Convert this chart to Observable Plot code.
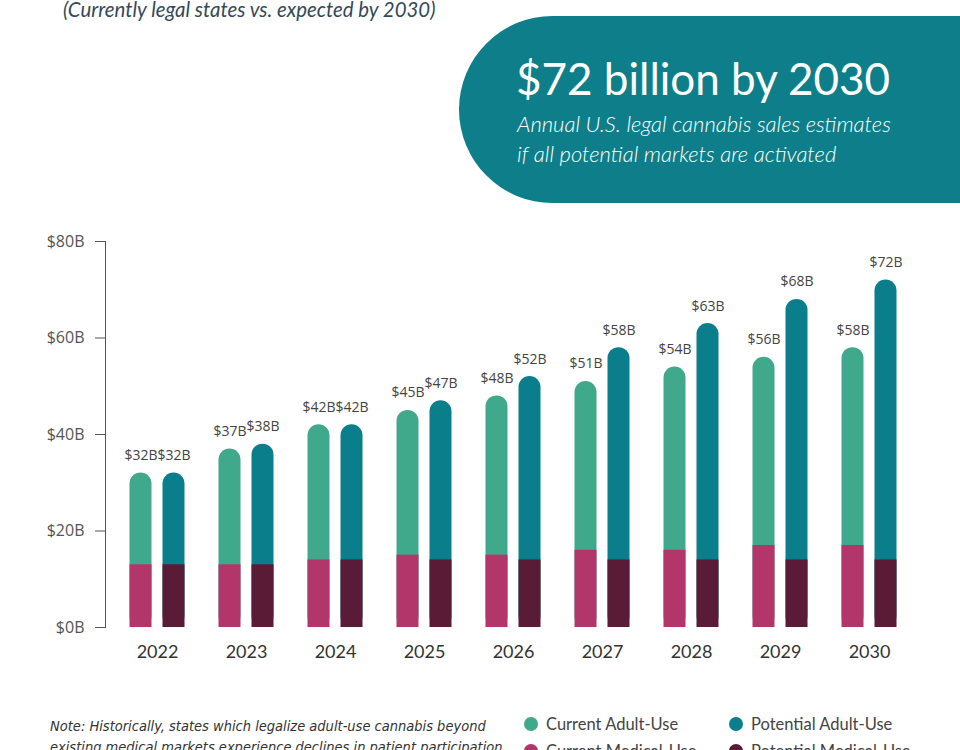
<!DOCTYPE html>
<html>
<head>
<meta charset="utf-8">
<script src="https://cdn.jsdelivr.net/npm/d3@7"></script>
<script src="https://cdn.jsdelivr.net/npm/@observablehq/plot@0.6"></script>
<style>
  html, body { margin: 0; padding: 0; background: #fff; }
  #wrap { position: relative; width: 960px; height: 750px; overflow: hidden; background: #fff; font-family: Lato, "Open Sans", sans-serif; }
  #chart { position: absolute; left: 0; top: 0; }
  .sub { position: absolute; left: 63px; top: -3px; font-size: 20.4px; font-style: italic; color: #34495a; white-space: nowrap; }
  .banner { position: absolute; left: 459px; top: 16px; width: 560px; height: 187px; background: #0e7f8a; border-radius: 94px 0 0 94px; }
  .btitle { position: absolute; left: 516px; top: 52px; font-size: 44px; color: #fff; white-space: nowrap; }
  .bsub { position: absolute; left: 517px; top: 108.5px; font-size: 22px; font-style: italic; font-weight: 300; color: #fff; line-height: 30px; white-space: nowrap; }
  .note { position: absolute; left: 50px; top: 716px; font-family: "Liberation Sans Narrow", "DejaVu Sans Condensed", sans-serif; font-style: italic; font-size: 14.5px; color: #333; line-height: 21px; white-space: nowrap; }
  .leg { position: absolute; font-size: 16.5px; color: #444; white-space: nowrap; display: flex; align-items: center; }
  .leg span.dot { width: 14px; height: 14px; border-radius: 50%; display: inline-block; margin-right: 8px; }
</style>
</head>
<body>
<div id="wrap">
  <div id="chart"></div>
  <div class="sub">(Currently legal states vs. expected by 2030)</div>
  <div class="banner"></div>
  <div class="btitle">$72 billion by 2030</div>
  <div class="bsub">Annual U.S. legal cannabis sales estimates<br>if all potential markets are activated</div>
  <div class="note">Note: Historically, states which legalize adult-use cannabis beyond<br>existing medical markets experience declines in patient participation</div>
  <div id="legend"></div>
</div>
<script>
const years = ["2022","2023","2024","2025","2026","2027","2028","2029","2030"];
const currentTotal = [32,37,42,45,48,51,54,56,58];
const potentialTotal = [32,38,42,47,52,58,63,68,72];
const currentMedical = [13,13,14,15,15,16,16,17,17];
const potentialMedical = [13,13,14,14,14,14,14,14,14];
const yTicks = [0,20,40,60,80];
const seriesNames = ["Current Adult-Use","Potential Adult-Use","Current Medical-Use","Potential Medical-Use"];
const seriesColors = ["#40a98b","#0a7f8b","#b3366b","#5a1b37"];

const numFont = "'Open Sans', sans-serif";

const plot = Plot.plot({
  width: 960,
  height: 690,
  marginLeft: 105,
  marginRight: 40,
  marginTop: 241,
  marginBottom: 63,
  style: {background: "transparent", color: "#555", fontFamily: numFont, fontSize: "16px"},
  x: {domain: years, paddingInner: 0.26, paddingOuter: 0.196, axis: null},
  y: {domain: [0, 80], ticks: yTicks, tickFormat: d => `$${d}B`, tickSize: 10, tickPadding: 11, line: true, label: null},
  marks: [
    Plot.barY(years, {x: d => d, y: (d, i) => currentTotal[i], fill: seriesColors[0], rx: 11, insetLeft: 5.5, insetRight: 38.5}),
    Plot.barY(years, {x: d => d, y: (d, i) => potentialTotal[i], fill: seriesColors[1], rx: 11, insetLeft: 38.5, insetRight: 5.5}),
    Plot.barY(years, {x: d => d, y: (d, i) => currentMedical[i], fill: seriesColors[2], insetLeft: 5.5, insetRight: 38.5}),
    Plot.barY(years, {x: d => d, y: (d, i) => potentialMedical[i], fill: seriesColors[3], insetLeft: 38.5, insetRight: 5.5}),
    Plot.text(years, {x: d => d, y: (d, i) => currentTotal[i], text: (d, i) => `$${currentTotal[i]}B`, dx: -16.5, dy: -13, lineAnchor: "bottom", fontSize: 14, fontFamily: numFont, fill: "#444"}),
    Plot.text(years, {x: d => d, y: (d, i) => potentialTotal[i], text: (d, i) => `$${potentialTotal[i]}B`, dx: 16.5, dy: -13, lineAnchor: "bottom", fontSize: 14, fontFamily: numFont, fill: "#444"}),
    Plot.axisX({tickSize: 0, tickPadding: 18, fontSize: 18, fontFamily: "Lato, sans-serif", fill: "#333", label: null})
  ]
});
document.getElementById("chart").appendChild(plot);

const legendPos = [[524, 725], [729, 725], [524, 752], [729, 752]];
const legend = document.getElementById("legend");
seriesNames.forEach((name, i) => {
  const el = document.createElement("div");
  el.className = "leg";
  el.style.left = legendPos[i][0] + "px";
  el.style.top = (legendPos[i][1] - 11) + "px";
  el.innerHTML = `<span class="dot" style="background:${seriesColors[i]}"></span>${name}`;
  legend.appendChild(el);
});
</script>
</body>
</html>
